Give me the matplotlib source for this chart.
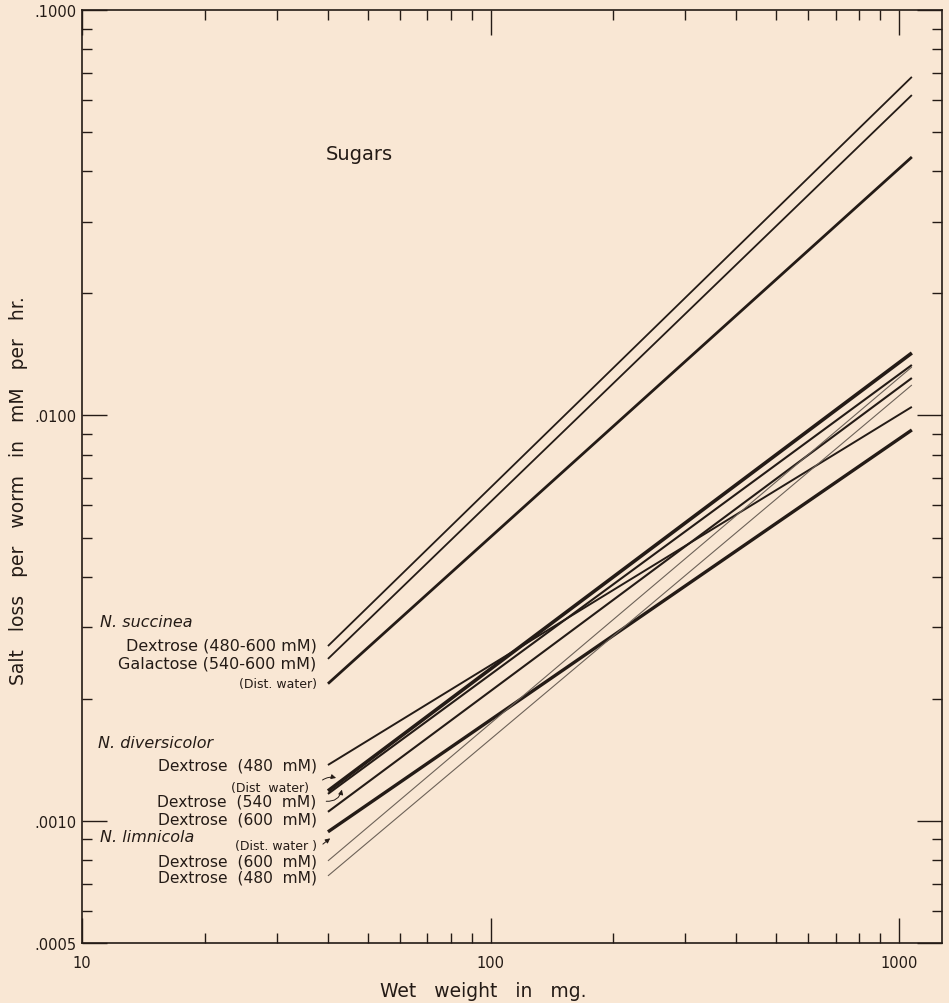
import matplotlib
matplotlib.use("Agg")
import matplotlib.pyplot as plt
import numpy as np
from matplotlib.ticker import FixedLocator, NullFormatter

# values (log-log, salt loss in mM/hr vs wet weight in mg)
x_start = 40.0
x_end = 1075.0

succ_names = ["Dextrose (480-600 mM)", "Galactose (540-600 mM)", "(Dist. water)"]
succ_y0 = [0.00270, 0.00251, 0.00218]
succ_y1 = [0.0684, 0.0617, 0.0434]

div_names = ["Dextrose  (480  mM)", "(Dist  water)", "Dextrose  (540  mM)", "Dextrose  (600  mM)"]
div_y0 = [0.001374, 0.001186, 0.001166, 0.001053]
div_y1 = [0.01050, 0.01426, 0.01332, 0.01237]

lim_names = ["(Dist. water )", "Dextrose  (600  mM)", "Dextrose  (480  mM)"]
lim_y0 = [0.000940, 0.000797, 0.000732]
lim_y1 = [0.00921, 0.01317, 0.01189]

y_ticks = [0.0005, 0.001, 0.01, 0.1]
y_ticklabels = [".0005", ".0010", ".0100", ".1000"]
x_ticks = [10, 100, 1000]
x_ticklabels = ["10", "100", "1000"]

# styles kept apart from the data
ink = "#241b16"
paper = "#f9e7d4"
succ_lw = [1.3, 1.3, 2.0]
div_lw = [1.4, 2.6, 1.5, 1.5]
lim_lw = [2.4, 0.8, 0.8]
lim_col = [ink, "#6d6258", "#6d6258"]

fig = plt.figure(figsize=(9.49, 10.04), dpi=100, facecolor=paper)
ax = fig.add_axes([82 / 949, 1 - 944 / 1004, 860 / 949, 933 / 1004])
ax.set_facecolor(paper)
ax.set_xscale("log")
ax.set_yscale("log")
ax.set_xlim(10, 1274)
ax.set_ylim(0.0005, 0.1)

xs = [x_start, x_end]
for y0, y1, lw in zip(succ_y0, succ_y1, succ_lw):
    ax.plot(xs, [y0, y1], color=ink, lw=lw, solid_capstyle="butt")
for y0, y1, lw in zip(div_y0, div_y1, div_lw):
    ax.plot(xs, [y0, y1], color=ink, lw=lw, solid_capstyle="butt")
for y0, y1, lw, c in zip(lim_y0, lim_y1, lim_lw, lim_col):
    ax.plot(xs, [y0, y1], color=c, lw=lw, solid_capstyle="butt")

# labels at the left end of the lines
fs = 11.5
lx = 37.5
ax.text(11.07, 0.003095, "N. succinea", style="italic", fontsize=fs, color=ink, va="center")
for name, y in zip(succ_names, [0.002716, 0.002453, 0.002177]):
    small = name.startswith("(")
    ax.text(lx, y, name, fontsize=9 if small else fs, color=ink, ha="right", va="center")

ax.text(10.94, 0.001557, "N. diversicolor", style="italic", fontsize=fs, color=ink, va="center")
for name, y, x in zip(div_names, [0.001374, 0.001206, 0.001120, 0.001011], [lx, 36.0, lx, lx]):
    small = name.startswith("(")
    ax.text(x, y, name, fontsize=9 if small else 11.2, color=ink, ha="right", va="center")

ax.text(11.07, 0.000918, "N. limnicola", style="italic", fontsize=fs, color=ink, va="center")
for name, y in zip(lim_names, [0.000868, 0.000797, 0.000728]):
    small = name.startswith("(")
    ax.text(lx, y, name, fontsize=9 if small else 11.2, color=ink, ha="right", va="center")

# little pointer arrows
arrow = dict(arrowstyle="-|>", color=ink, lw=0.7, mutation_scale=7)
ax.annotate("", xy=(42.5, 0.00127), xytext=(38.3, 0.00125),
            arrowprops=dict(arrow, connectionstyle="arc3,rad=-0.3"))
ax.annotate("", xy=(43.4, 0.001213), xytext=(39.0, 0.00112),
            arrowprops=dict(arrow, connectionstyle="arc3,rad=0.5"))
ax.annotate("", xy=(41.0, 0.000915), xytext=(38.4, 0.000868),
            arrowprops=dict(arrow, connectionstyle="arc3,rad=0.0"))

ax.text(0.283, 0.846, "Sugars", transform=ax.transAxes, fontsize=14, color=ink, va="center")

# axes, ticks
ax.yaxis.set_major_locator(FixedLocator(y_ticks))
ax.set_yticklabels(y_ticklabels)
ax.yaxis.set_minor_locator(FixedLocator(
    [k * 1e-4 for k in range(6, 10)] + [k * 1e-3 for k in range(2, 10)] + [k * 1e-2 for k in range(2, 10)]))
ax.yaxis.set_minor_formatter(NullFormatter())
ax.xaxis.set_major_locator(FixedLocator(x_ticks))
ax.set_xticklabels(x_ticklabels)
ax.xaxis.set_minor_locator(FixedLocator([k * 10 for k in range(2, 10)] + [k * 100 for k in range(2, 10)]))
ax.xaxis.set_minor_formatter(NullFormatter())

ax.tick_params(which="both", direction="in", top=True, right=True, color=ink, width=1.0,
               labelcolor=ink, labelsize=10.5)
ax.tick_params(which="major", length=18)
ax.tick_params(which="minor", length=7)
ax.tick_params(axis="y", pad=4)
ax.tick_params(axis="x", pad=9)
for s in ax.spines.values():
    s.set_color(ink)
    s.set_linewidth(1.2)

ax.set_xlabel("Wet   weight   in   mg.", fontsize=13.5, color=ink)
ax.xaxis.set_label_coords(0.467, -0.041)
ax.set_ylabel("Salt   loss   per   worm   in   mM   per   hr.", fontsize=13.5, color=ink)
ax.yaxis.set_label_coords(-0.063, 0.486)

fig.savefig("out.png", dpi=100, facecolor=paper)
